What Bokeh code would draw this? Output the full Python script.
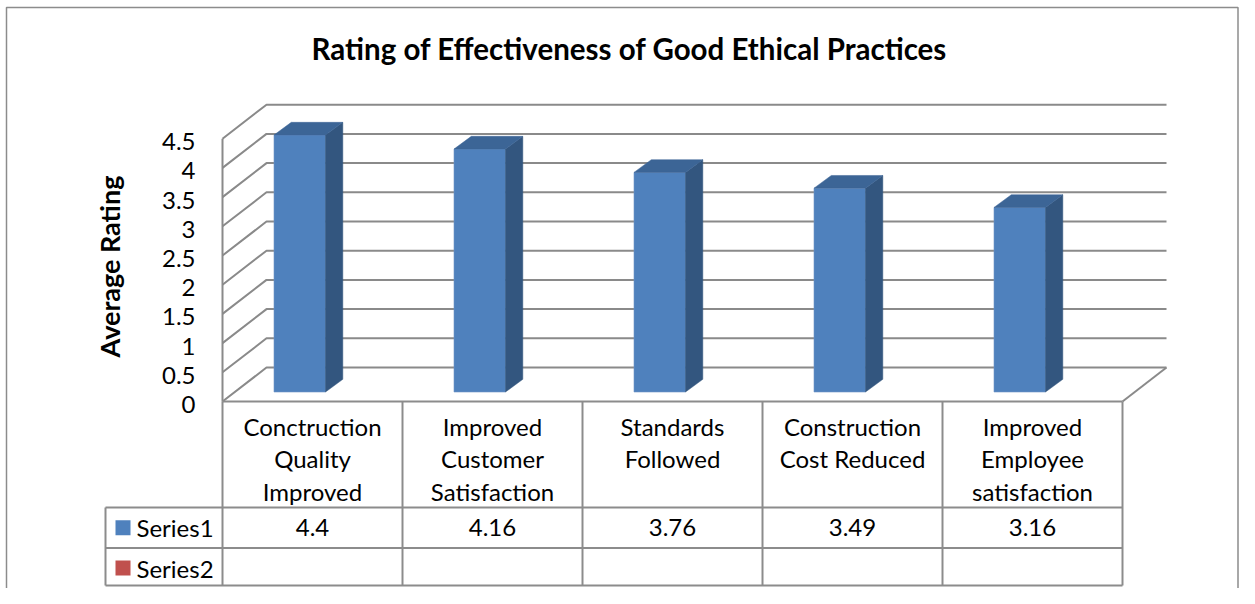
import numpy as np
from bokeh.plotting import figure
from bokeh.models import Range1d
from bokeh.core.properties import value
from bokeh.embed import file_html
from bokeh.resources import INLINE

# ---------------- data ----------------
title = "Rating of Effectiveness of Good Ethical Practices"
y_label = "Average Rating"
category_lines = [
    ["Conctruction", "Quality", "Improved"],
    ["Improved", "Customer", "Satisfaction"],
    ["Standards", "Followed"],
    ["Construction", "Cost Reduced"],
    ["Improved", "Employee", "satisfaction"],
]
series1 = [4.4, 4.16, 3.76, 3.49, 3.16]
series1_labels = ["4.4", "4.16", "3.76", "3.49", "3.16"]
series_names = ["Series1", "Series2"]
series_colors = ["#4F81BD", "#C0504D"]
y_ticks = [0, 0.5, 1, 1.5, 2, 2.5, 3, 3.5, 4, 4.5]
y_tick_labels = ["0", "0.5", "1", "1.5", "2", "2.5", "3", "3.5", "4", "4.5"]

# ---------------- layout ----------------
W, H = 1239, 588
UX, UY = 180.0, 58.4      # pixels per category / per rating unit
OX, OY = 222, 401         # canvas px of the front-bottom-left corner of the plot box
FONT = "Lato"
GRID = "#8a8a8a"
FS = "24px"


def dx(px):
    return px / UX


def dy(px):
    return px / UY


p = figure(width=W, height=H,
           x_range=Range1d(-OX / UX, (W - OX) / UX),
           y_range=Range1d(-(H - OY) / UY, OY / UY),
           x_axis_type=None, y_axis_type=None,
           output_backend="svg", toolbar_location=None, min_border=0)
p.outline_line_color = None
p.background_fill_color = "white"
p.border_fill_color = "white"

n = len(series1)
ymax = y_ticks[-1]
DX, DY = dx(44), dy(34)          # depth of the 3-D box

# outer chart border (left, top, right)
xl, xr = dx(6 - OX), dx(W - 1.5 - OX)
yt, yb = dy(OY - 7), dy(OY - H - 5)
p.line([xl, xl, xr, xr], [yb, yt, yt, yb], line_color="#8c8c8c", line_width=1.5)

# walls: gridlines (left wall diagonal + back wall)
p.multi_line([[0, DX, n + DX] for t in y_ticks],
             [[t, t + DY, t + DY] for t in y_ticks],
             line_color=GRID, line_width=2)
# left wall front edge
p.line([0, 0], [0, ymax], line_color=GRID, line_width=2)
# floor right edge
p.line([n, n + DX], [0, DY], line_color=GRID, line_width=2)

# ---------------- bars ----------------
bw = dx(51.5)
boff = dx(51.5)
base = dy(9.5)
bdx, bdy = dx(17.3), dy(12.7)
lefts = [i + boff for i in range(n)]
rights = [l + bw for l in lefts]
tops = [v + base for v in series1]

p.quad(left=lefts, right=rights, bottom=[base] * n, top=tops,
       fill_color=series_colors[0], line_color="#6f96c6", line_width=0.6)
p.patches([[r, r + bdx, r + bdx, r] for r in rights],
          [[base, base + bdy, t + bdy, t] for t in tops],
          fill_color="#33567f", line_color="#33567f", line_width=0.5)
p.patches([[l, l + bdx, r + bdx, r] for l, r in zip(lefts, rights)],
          [[t, t + bdy, t + bdy, t] for t in tops],
          fill_color="#3c6596", line_color="#3c6596", line_width=0.5)

# ---------------- data table ----------------
hdr_b = -dy(106)
r1_b = hdr_b - dy(40.5)
r2_b = r1_b - dy(37.5)
leg_l = -dx(117)
TL = "#8c8c8c"
p.line([0, n], [0, 0], line_color=TL, line_width=2)
p.multi_line([[leg_l, n]] * 3, [[hdr_b, hdr_b], [r1_b, r1_b], [r2_b, r2_b]],
             line_color=TL, line_width=2)
p.multi_line([[i, i] for i in range(n + 1)] + [[leg_l, leg_l]],
             [[0, r2_b] for i in range(n + 1)] + [[hdr_b, r2_b]],
             line_color=TL, line_width=2)

# category labels
cx, cy, ct = [], [], []
for i, lines in enumerate(category_lines):
    for j, s in enumerate(lines):
        cx.append(i + 0.5)
        cy.append(-dy(24.5 + 32.5 * j))
        ct.append(s)
p.text(cx, cy, text=ct, text_font=value(FONT), text_font_size=FS,
       text_align="center", text_baseline="middle", text_color="black")

rows_mid = [(hdr_b + r1_b) / 2, r1_b - dy(20)]

# values row
p.text([i + 0.5 for i in range(n)], [rows_mid[0]] * n, text=series1_labels,
       text_font=value(FONT), text_font_size=FS, text_align="center",
       text_baseline="middle", text_color="black")

# legend cells
p.scatter([leg_l + dx(17.5)] * 2, rows_mid, marker="square", size=15,
          fill_color=series_colors, line_color=None)
p.text([leg_l + dx(31)] * 2, rows_mid, text=series_names,
       text_font=value(FONT), text_font_size=FS, text_align="left",
       text_baseline="middle", text_color="black")

# y tick labels
p.text([-dx(27)] * len(y_ticks), [t - dy(3) for t in y_ticks], text=y_tick_labels,
       text_font=value(FONT), text_font_size=FS, text_align="right",
       text_baseline="middle", text_color="black")

# y axis title
p.text([-dx(222 - 109)], [dy(401 - 266)], text=[y_label], angle=np.pi / 2,
       text_font=value(FONT), text_font_size="27px", text_font_style="bold",
       text_align="center", text_baseline="middle", text_color="black")

# chart title
p.text([dx(629 - 222)], [dy(401 - 47.5)], text=[title],
       text_font=value(FONT), text_font_size="29.5px", text_font_style="bold",
       text_align="center", text_baseline="middle", text_color="black")

open("out.html", "w").write(file_html(p, INLINE))
